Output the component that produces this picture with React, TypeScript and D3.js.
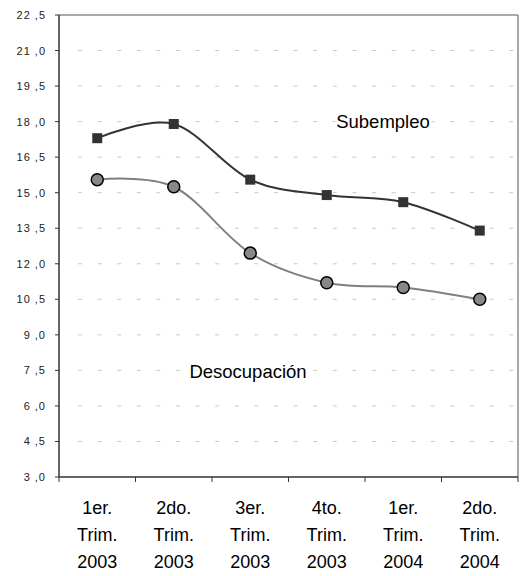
import React from "react";
import * as d3 from "d3";

const categories: string[][] = [
  ["1er.", "Trim.", "2003"],
  ["2do.", "Trim.", "2003"],
  ["3er.", "Trim.", "2003"],
  ["4to.", "Trim.", "2003"],
  ["1er.", "Trim.", "2004"],
  ["2do.", "Trim.", "2004"],
];
const subempleo: number[] = [17.3, 17.9, 15.55, 14.9, 14.6, 13.4];
const desocupacion: number[] = [15.55, 15.25, 12.45, 11.2, 11.0, 10.5];
const yTicks: number[] = [3, 4.5, 6, 7.5, 9, 10.5, 12, 13.5, 15, 16.5, 18, 19.5, 21, 22.5];

const W = 520;
const H = 576;
const left = 59;
const right = 518;
const top = 15;
const bottom = 477;

function fmt(v: number): string {
  const s = v.toFixed(1).split(".");
  return `${s[0]} ,${s[1]}`;
}

export default function App() {
  const x = d3
    .scaleBand<number>()
    .domain(categories.map((_, i) => i))
    .range([left, right])
    .padding(0);
  const y = d3.scaleLinear().domain([3, 22.5]).range([bottom, top]);
  const cx = (i: number) => (x(i) as number) + x.bandwidth() / 2;

  const line = d3
    .line<number>()
    .x((_, i) => cx(i))
    .y((d) => y(d))
    .curve(d3.curveCatmullRom.alpha(0));

  const xTickPos = [...categories.map((_, i) => x(i) as number), right];
  const lineY = [514, 541, 568];

  return (
    <svg
      width={W}
      height={H}
      style={{ position: "absolute", left: 0, top: 0, background: "#fff" }}
      fontFamily="'Liberation Sans', Arial, sans-serif"
    >
      {/* gridlines */}
      {yTicks
        .filter((t) => t !== 3 && t !== 22.5)
        .map((t) => (
          <line
            key={"g" + t}
            x1={left + 19}
            x2={right - 2}
            y1={y(t)}
            y2={y(t)}
            stroke="#c8c8c8"
            strokeWidth={1}
            strokeDasharray="4 15.6"
          />
        ))}
      {/* frame top/right */}
      <line x1={left} x2={right} y1={top} y2={top} stroke="#8c8c8c" strokeWidth={1.5} />
      <line x1={right} x2={right} y1={top} y2={bottom} stroke="#8c8c8c" strokeWidth={1.5} />

      {/* labels with white background */}
      <text x={383} y={128} textAnchor="middle" fontSize={18.5} fill="#000" stroke="#fff" strokeWidth={6} paintOrder="stroke">
        Subempleo
      </text>
      <text x={248} y={378} textAnchor="middle" fontSize={18.5} fill="#000" stroke="#fff" strokeWidth={6} paintOrder="stroke">
        Desocupación
      </text>

      {/* lines */}
      <path d={line(desocupacion) || ""} fill="none" stroke="#808080" strokeWidth={2} />
      <path d={line(subempleo) || ""} fill="none" stroke="#333" strokeWidth={2} />

      {/* markers */}
      {subempleo.map((v, i) => (
        <rect key={"s" + i} x={cx(i) - 5} y={y(v) - 5} width={10} height={10} fill="#333" />
      ))}
      {desocupacion.map((v, i) => (
        <circle key={"d" + i} cx={cx(i)} cy={y(v)} r={6} fill="#888" stroke="#000" strokeWidth={1.5} />
      ))}

      {/* axes */}
      <line x1={left} x2={left} y1={top} y2={bottom} stroke="#333" strokeWidth={1.5} />
      <line x1={left} x2={right} y1={bottom} y2={bottom} stroke="#333" strokeWidth={1.5} />
      {yTicks.map((t) => (
        <g key={"t" + t}>
          <line x1={left - 4} x2={left} y1={y(t)} y2={y(t)} stroke="#333" strokeWidth={1} />
          <text x={46} y={y(t) + 4} textAnchor="end" fontSize={11} letterSpacing={1} fill="#222">
            {fmt(t)}
          </text>
        </g>
      ))}
      {xTickPos.map((p, i) => (
        <line key={"xt" + i} x1={p} x2={p} y1={bottom} y2={bottom + 5} stroke="#333" strokeWidth={1} />
      ))}
      {categories.map((c, i) => (
        <text key={"c" + i} textAnchor="middle" fontSize={18} fill="#000">
          {c.map((l, j) => (
            <tspan key={j} x={cx(i)} y={lineY[j]}>
              {l}
            </tspan>
          ))}
        </text>
      ))}
    </svg>
  );
}
